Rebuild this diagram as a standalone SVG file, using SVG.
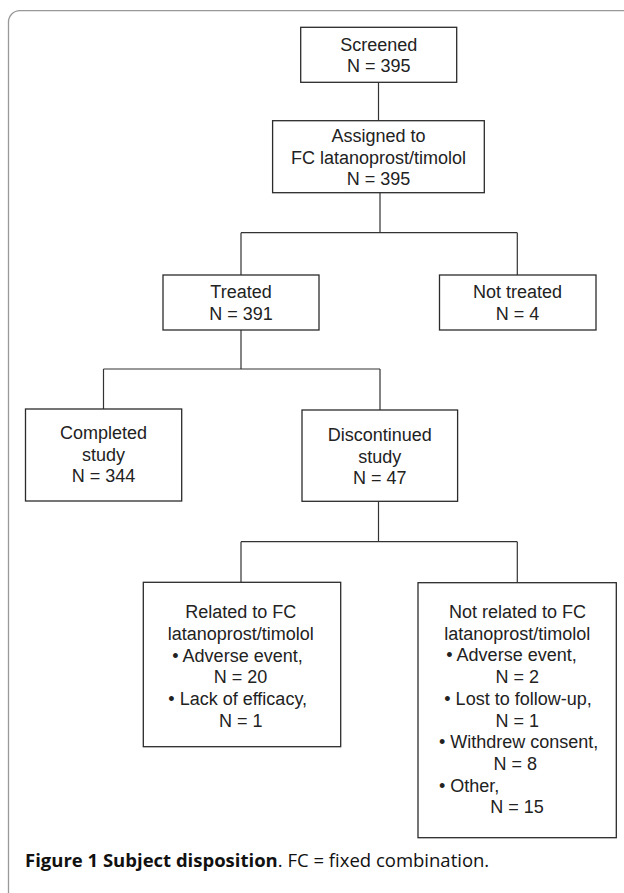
<svg xmlns="http://www.w3.org/2000/svg" width="624" height="893" viewBox="0 0 624 893">
<style>
.box{fill:#fff;stroke:#2b2b2b;stroke-width:1.3}
.t{font-family:"Liberation Sans",Arial,sans-serif;font-size:18px;fill:#222;text-anchor:middle}
.tl{font-family:"Liberation Sans",Arial,sans-serif;font-size:18px;fill:#222}
.c{fill:none;stroke:#333;stroke-width:1.2}
.cap{font-family:"Open Sans",sans-serif;font-size:18.5px;fill:#111}
</style>
<rect width="624" height="893" fill="#fff"/>
<path d="M8.5 893 V22 A11.3 11.3 0 0 1 19.8 10.7 H624" fill="none" stroke="#999" stroke-width="1.3"/>
<g id="connectors">
<path class="c" d="M378.5 82.3 V120.7"/>
<path class="c" d="M380 192.7 V232.7 M241 232.7 H517.3 M241 232.7 V275 M517.3 232.7 V275"/>
<path class="c" d="M241 330 V369 M103.5 369 H380 M103.5 369 V409 M380 369 V410"/>
<path class="c" d="M378.5 501.3 V541.7 M241 541.7 H517.3 M241 541.7 V582.5 M517.3 541.7 V582.7"/>
</g>
<g id="screened">
<rect class="box" x="300.7" y="27.3" width="156" height="55"/>
<text class="t" x="378.7" y="50.7">Screened</text>
<text class="t" x="378.7" y="72.3">N = 395</text>
</g>
<g id="assigned">
<rect class="box" x="272.6" y="120.7" width="211.7" height="72"/>
<text class="t" x="378.5" y="142">Assigned to</text>
<text class="t" x="378.5" y="163.7">FC latanoprost/timolol</text>
<text class="t" x="378.5" y="185.3">N = 395</text>
</g>
<g id="treated">
<rect class="box" x="163" y="275" width="156" height="55"/>
<text class="t" x="241" y="298.3">Treated</text>
<text class="t" x="241" y="319.9">N = 391</text>
</g>
<g id="not-treated">
<rect class="box" x="439.5" y="275" width="156.5" height="55"/>
<text class="t" x="517.5" y="298.3">Not treated</text>
<text class="t" x="517.5" y="319.9">N = 4</text>
</g>
<g id="completed">
<rect class="box" x="25.5" y="409" width="156.2" height="92"/>
<text class="t" x="103.6" y="439">Completed</text>
<text class="t" x="103.6" y="460.7">study</text>
<text class="t" x="103.6" y="482.4">N = 344</text>
</g>
<g id="discontinued">
<rect class="box" x="302" y="410" width="155.6" height="91.3"/>
<text class="t" x="379.8" y="441">Discontinued</text>
<text class="t" x="379.8" y="462.7">study</text>
<text class="t" x="379.8" y="484.4">N = 47</text>
</g>
<g id="related">
<rect class="box" x="143.3" y="582.3" width="197.4" height="164.4"/>
<text class="t" x="240.8" y="618.3">Related to FC</text>
<text class="t" x="240.8" y="640">latanoprost/timolol</text>
<text class="t" x="237.5" y="661.7">• Adverse event,</text>
<text class="t" x="240.4" y="683.4">N = 20</text>
<text class="t" x="237.7" y="705.1">• Lack of efficacy,</text>
<text class="t" x="240.8" y="726.8">N = 1</text>
</g>
<g id="not-related">
<rect class="box" x="418" y="582.7" width="198.3" height="255"/>
<text class="t" x="517.5" y="618">Not related to FC</text>
<text class="t" x="517.3" y="639.7">latanoprost/timolol</text>
<text class="t" x="511.5" y="661.4">• Adverse event,</text>
<text class="t" x="517.2" y="683.1">N = 2</text>
<text class="t" x="518" y="704.8">• Lost to follow-up,</text>
<text class="t" x="517.3" y="726.5">N = 1</text>
<text class="t" x="518.7" y="748.2">• Withdrew consent,</text>
<text class="t" x="515.2" y="769.9">N = 8</text>
<text class="tl" x="439" y="791.6">• Other,</text>
<text class="t" x="517" y="813.3">N = 15</text>
</g>
<text class="cap" x="25" y="867"><tspan font-weight="bold">Figure 1 Subject disposition</tspan>. FC = fixed combination.</text>
</svg>
